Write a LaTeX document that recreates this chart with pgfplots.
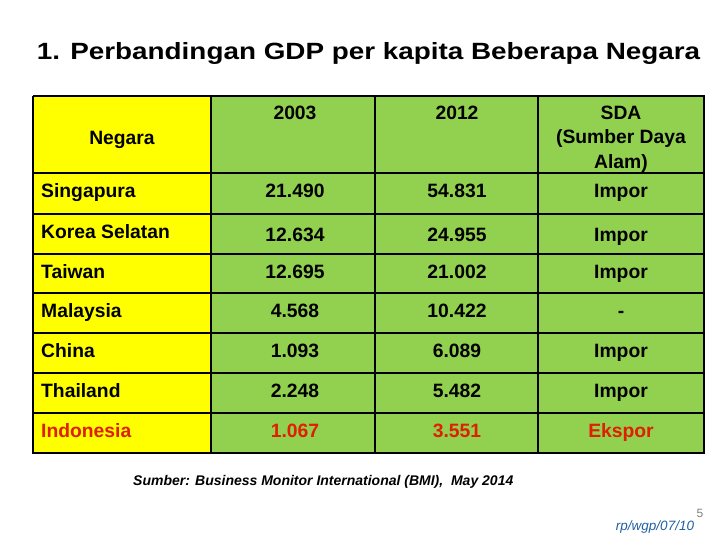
\documentclass[border=0pt]{standalone}
\usepackage{pgfplots}
\pgfplotsset{compat=1.18}
\usepackage{fontspec}
\setmainfont{Liberation Sans}
\definecolor{cellyellow}{HTML}{FFFF00}
\definecolor{cellgreen}{HTML}{92D050}
\definecolor{redtxt}{HTML}{E01E00}
\definecolor{bluetxt}{HTML}{1F5F9F}
\begin{document}
\begin{tikzpicture}
\begin{axis}[
  scale only axis, width=720pt, height=540pt,
  xmin=0, xmax=720, ymin=0, ymax=540, y dir=reverse,
  hide axis, clip=false,
]
% cell backgrounds
\addplot[fill=cellyellow, draw=none] coordinates {(33,96) (211,96) (211,453) (33,453)} -- cycle;
\addplot[fill=cellgreen, draw=none] coordinates {(211,96) (704,96) (704,453) (211,453)} -- cycle;
% grid lines
\addplot[black, line width=2pt] coordinates {(33,96) (704,96) (704,453) (33,453) (33,96)};
\foreach \yy in {173,214,254,293,333,373,413} {
  \edef\temp{\noexpand\addplot[black, line width=2pt] coordinates {(33,\yy) (704,\yy)};}
  \temp
}
\foreach \xx in {211,375,538} {
  \edef\temp{\noexpand\addplot[black, line width=2pt] coordinates {(\xx,96) (\xx,453)};}
  \temp
}
% title
\node[anchor=base, xscale=1.185, font=\fontsize{23.5}{26}\selectfont\bfseries] at (axis cs:368.5,59.5) {1. Perbandingan GDP per kapita Beberapa Negara};
% header
\begin{scope}[every node/.style={anchor=base, inner sep=0pt, font=\fontsize{19.3}{24}\selectfont\bfseries}]
\node at (axis cs:122,145) {Negara};
\node at (axis cs:295,120) {2003};
\node at (axis cs:457,120) {2012};
\node at (axis cs:621,119.5) {SDA};
\node at (axis cs:621,144) {(Sumber Daya};
\node at (axis cs:621,168.5) {Alam)};
% rows
\node[anchor=base west] at (axis cs:41,197.5) {Singapura};
\node at (axis cs:295,198) {21.490};
\node at (axis cs:457,198) {54.831};
\node at (axis cs:621,198) {Impor};
\node[anchor=base west] at (axis cs:41,238.5) {Korea Selatan};
\node at (axis cs:295,241) {12.634};
\node at (axis cs:457,241) {24.955};
\node at (axis cs:621,241) {Impor};
\node[anchor=base west] at (axis cs:41,278) {Taiwan};
\node at (axis cs:295,278) {12.695};
\node at (axis cs:457,278) {21.002};
\node at (axis cs:621,278) {Impor};
\node[anchor=base west] at (axis cs:41,317.5) {Malaysia};
\node at (axis cs:295,317.5) {4.568};
\node at (axis cs:457,317.5) {10.422};
\node at (axis cs:621,317.5) {-};
\node[anchor=base west] at (axis cs:41,357) {China};
\node at (axis cs:295,357) {1.093};
\node at (axis cs:457,357) {6.089};
\node at (axis cs:621,357) {Impor};
\node[anchor=base west] at (axis cs:41,397) {Thailand};
\node at (axis cs:295,397) {2.248};
\node at (axis cs:457,397) {5.482};
\node at (axis cs:621,397) {Impor};
\node[anchor=base west, text=redtxt] at (axis cs:41,437) {Indonesia};
\node[text=redtxt] at (axis cs:295,437) {1.067};
\node[text=redtxt] at (axis cs:457,437) {3.551};
\node[text=redtxt] at (axis cs:621,437) {Ekspor};
\end{scope}
% footer
\node[anchor=base west, inner sep=0pt, font=\fontsize{14}{16}\selectfont\bfseries\itshape] at (axis cs:133,485) {Sumber: Business Monitor International (BMI),\ \ May 2014};
\node[font=\fontsize{12}{14}\selectfont, text=gray] at (axis cs:700,513) {5};
\node[font=\fontsize{13.5}{15}\selectfont\itshape, text=bluetxt] at (axis cs:655,527) {rp/wgp/07/10};
\end{axis}
\path (current axis.south west) rectangle (current axis.north east);
\end{tikzpicture}
\end{document}
